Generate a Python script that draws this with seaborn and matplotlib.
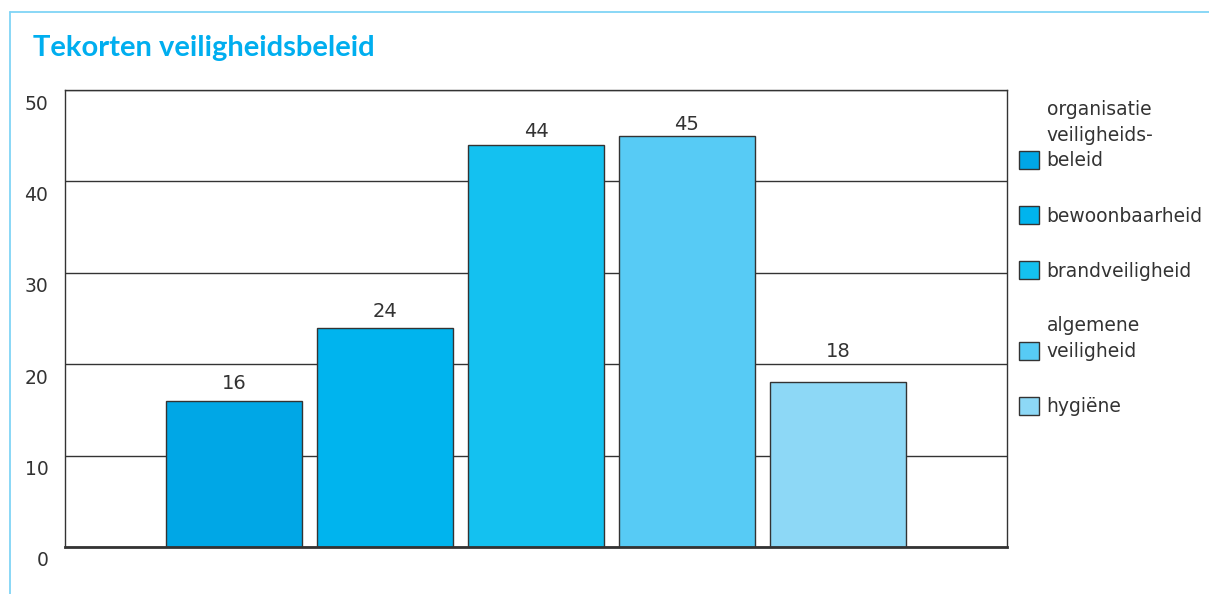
import matplotlib
matplotlib.use("Agg")
import matplotlib.pyplot as plt
import matplotlib.transforms as mtransforms
from matplotlib.lines import Line2D
import pandas as pd
import seaborn as sns

# ── data ──────────────────────────────────────────────────────────────────────
categories = [
    "organisatie\nveiligheids-\nbeleid",
    "bewoonbaarheid",
    "brandveiligheid",
    "algemene\nveiligheid",
    "hygiëne",
]
values = [16, 24, 44, 45, 18]
colors = ["#00a7e6", "#00b4ee", "#14c1f0", "#57cbf5", "#8dd8f6"]
y_ticks = [0, 10, 20, 30, 40, 50]

TEXT = "#333333"
FRAME = "#80d4f6"
LABEL_PAD = [5.5, 4.5, 2.5, 1.5, 15.5]   # labels sit a bit irregularly in the original

sns.set_theme(style="white")
plt.rcParams["font.family"] = ["DejaVu Sans"]

df = pd.DataFrame({"cat": categories, "val": values})

fig = plt.figure(figsize=(12.09, 5.94), dpi=100)
ax = fig.add_axes([65 / 1209, 47 / 594, 942 / 1209, 457 / 594])

sns.barplot(data=df, x="cat", y="val", hue="cat", palette=colors,
            width=0.9, edgecolor=TEXT, linewidth=1, saturation=1,
            legend=True, ax=ax)

ax.set_xlim(-1.12, 5.12)
ax.set_ylim(0, 50)
ax.set_yticks(y_ticks)
ax.set_xticks([])
ax.set_xlabel(""); ax.set_ylabel("")
ax.yaxis.grid(True, color=TEXT, linewidth=1)
ax.set_axisbelow(True)
ax.tick_params(axis="y", length=0, pad=12, labelsize=13.5, labelcolor=TEXT)
for lbl in ax.get_yticklabels():
    lbl.set_transform(lbl.get_transform() +
                      mtransforms.ScaledTranslation(0, -12 / 100, fig.dpi_scale_trans))
for side in ["left", "top", "right"]:
    ax.spines[side].set_color(TEXT)
    ax.spines[side].set_linewidth(1)
ax.spines["bottom"].set_color(TEXT)
ax.spines["bottom"].set_linewidth(2)

for cont, pad in zip(ax.containers, LABEL_PAD):
    ax.bar_label(cont, padding=pad, fontsize=14, color=TEXT)

# legend on the right, handle aligned with last line of the label
handles, labels = ax.get_legend_handles_labels()
leg = ax.legend(handles, labels, loc="upper left",
                bbox_to_anchor=(1019 / 1209, 1 - 100 / 594),
                bbox_transform=fig.transFigure, frameon=False,
                fontsize=13.5, handlelength=1.07, handleheight=1.07,
                handletextpad=0.4, labelspacing=1.91, borderpad=0,
                borderaxespad=0)
for h in leg.legend_handles:
    h.set_edgecolor(TEXT)
    h.set_linewidth(1)
for t in leg.get_texts():
    t.set_color(TEXT)
    t.set_linespacing(1.45)
for col in leg._legend_handle_box.get_children():
    for item in col.get_children():
        item.get_children()[1]._multilinebaseline = False

# title and light blue frame
fig.text(33 / 1209, 1 - 56 / 594, "Tekorten veiligheidsbeleid",
         fontsize=21, fontweight="bold", color="#00aeef", va="baseline",
         family="Lato")
fig.add_artist(Line2D([10 / 1209, 10 / 1209], [0, 1 - 12 / 594],
                      color=FRAME, linewidth=1.3, transform=fig.transFigure))
fig.add_artist(Line2D([10 / 1209, 1], [1 - 12 / 594, 1 - 12 / 594],
                      color=FRAME, linewidth=1.3, transform=fig.transFigure))

fig.savefig("out.png", dpi=100)
